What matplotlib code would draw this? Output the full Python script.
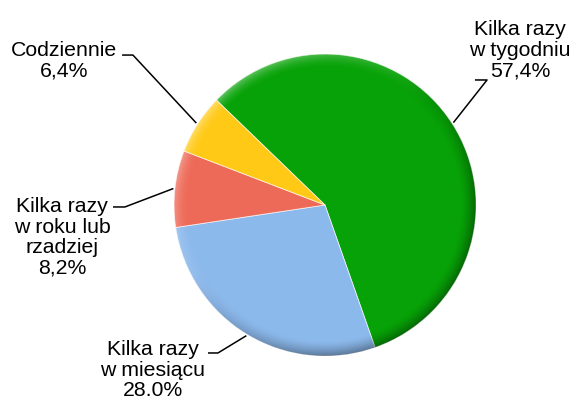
import numpy as np
import matplotlib
matplotlib.use('Agg')
from matplotlib import pyplot as plt
from matplotlib.patches import Circle

plt.rcParams['font.family'] = ['Liberation Sans', 'DejaVu Sans']

# dane
labels = ['Kilka razy\nw tygodniu', 'Kilka razy\nw miesiącu', 'Kilka razy\nw roku lub\nrzadziej', 'Codziennie']
values = [57.4, 28.0, 8.2, 6.4]
pct_text = ['57,4%', '28.0%', '8,2%', '6,4%']
colors = ['#07a207', '#8cb9ec', '#ee6a58', '#ffc915']

fig = plt.figure(figsize=(5.73, 4.03), dpi=100)
ax = fig.add_axes([0, 0, 1, 1])

wedges, _ = ax.pie(values, colors=colors, startangle=136, counterclock=False,
                   radius=1.0, wedgeprops=dict(linewidth=0.6, edgecolor=(1, 1, 1, 0.7)))

# bevel / cieniowanie krawedzi
n = 400
xx, yy = np.meshgrid(np.linspace(-1, 1, n), np.linspace(-1, 1, n))
rr = np.hypot(xx, yy)
ang = np.arctan2(yy, xx)
rim = np.clip((rr - 0.90) / 0.10, 0, 1)
light = np.cos(ang - np.deg2rad(135))
shade = np.zeros((n, n, 4))
dark = rim ** 1.5 * np.clip(-light + 0.3, 0, 1) * 0.35
bright = rim ** 2 * np.clip(light, 0, 1) * 0.35
shade[..., :3] = (bright / np.maximum(bright + dark, 1e-6))[..., None]
shade[..., 3] = bright + dark
im = ax.imshow(shade, extent=(-1, 1, -1, 1), origin='lower', zorder=3, interpolation='bilinear')
im.set_clip_path(Circle((0, 0), 1.0, transform=ax.transData))

# etykiety: (x tekstu, y tekstu, x kolanka, y kolanka, koniec poziomej linii)
layout = [
    (1.291, 1.026, 1.073, 0.828, 0.993),
    (-1.139, -1.093, -0.709, -0.980, -0.775),
    (-1.742, -0.215, -1.325, -0.013, -1.404),
    (-1.728, 0.954, -1.272, 0.993, -1.344),
]
for w, lab, pct, (tx, ty, ex, ey, hx) in zip(wedges, labels, pct_text, layout):
    mid = np.deg2rad((w.theta1 + w.theta2) / 2)
    px, py = 1.01 * np.cos(mid), 1.01 * np.sin(mid)
    ax.plot([px, ex, hx], [py, ey, ey], color='black', lw=1.1, zorder=4, solid_capstyle='butt')
    ax.text(tx, ty, lab + '\n' + pct, ha='center', va='center', fontsize=15.3,
            linespacing=1.1, zorder=5)

ax.set_aspect('auto')
ax.set_xlim(-325 / 151, (573 - 325) / 151)
ax.set_ylim((205 - 403) / 151, 205 / 151)
ax.axis('off')

plt.savefig('out.png', dpi=100)
